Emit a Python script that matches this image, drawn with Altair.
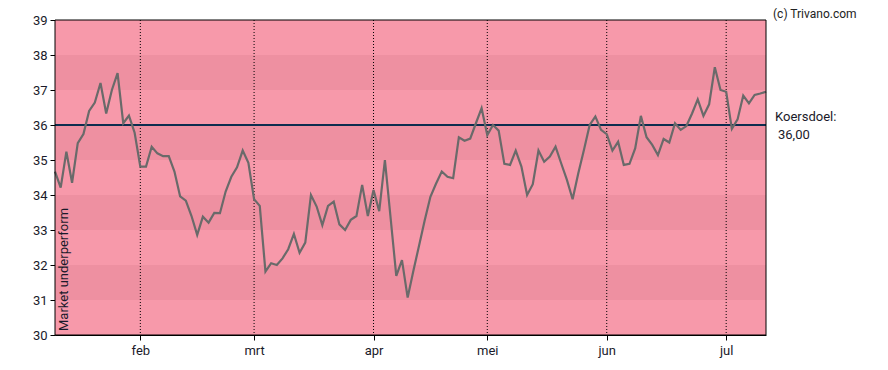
import altair as alt
import pandas as pd

# closing prices per trading day (13 Jan 2025 - 10 Jul 2025)
prices = [
    34.67, 34.21, 35.24, 34.35, 35.48, 35.74, 36.40, 36.64, 37.20, 36.33,
    37.00, 37.48, 36.05, 36.27, 35.78, 34.81, 34.81, 35.38, 35.19, 35.11,
    35.11, 34.67, 33.96, 33.84, 33.40, 32.86, 33.38, 33.21, 33.49, 33.48,
    34.10, 34.52, 34.79, 35.27, 34.92, 33.88, 33.69, 31.81, 32.05, 32.00,
    32.19, 32.45, 32.89, 32.35, 32.64, 34.00, 33.67, 33.14, 33.69, 33.81,
    33.16, 33.00, 33.29, 33.40, 34.29, 33.40, 34.14, 33.54, 35.00, 33.35,
    31.69, 32.14, 31.07, 31.83, 32.55, 33.28, 33.95, 34.33, 34.67, 34.52,
    34.48, 35.65, 35.55, 35.61, 36.05, 36.48, 35.71, 36.00, 35.84, 34.89,
    34.86, 35.27, 34.81, 34.00, 34.31, 35.27, 34.95, 35.10, 35.38, 34.90,
    34.43, 33.88, 34.62, 35.29, 36.00, 36.24, 35.86, 35.74, 35.27, 35.52,
    34.86, 34.89, 35.33, 36.26, 35.65, 35.43, 35.14, 35.60, 35.50, 36.05,
    35.86, 35.97, 36.33, 36.73, 36.26, 36.59, 37.65, 37.00, 36.95, 35.89,
    36.16, 36.84, 36.62, 36.86, 36.90, 36.95,
]

# first trading day of each month (index into prices)
month_idx = [15, 35, 56, 76, 97, 118]
month_labels = ["feb", "mrt", "apr", "mei", "jun", "jul"]

band_lo = [30, 31, 32, 33, 34, 35, 36, 37, 38]
band_kind = ["l", "d", "l", "d", "l", "d", "l", "d", "l"]

target = 36.0
target_label = "36,00"
y_ticks = list(range(30, 40))

W, H = 711, 315
FONT = "Roboto"

df = pd.DataFrame({"i": list(range(len(prices))), "p": prices})
bands = pd.DataFrame({"lo": band_lo, "hi": [b + 1 for b in band_lo], "k": band_kind})
months = pd.DataFrame({"i": month_idx, "m": month_labels})

label_map = "{" + ",".join(f"'{i}':'{m}'" for i, m in zip(month_idx, month_labels)) + "}"

xscale = alt.Scale(domain=[0, len(prices) - 1], nice=False, zero=False)
yscale = alt.Scale(domain=[30, 39], nice=False, zero=False)

xaxis = alt.Axis(
    values=month_idx, labelExpr=f"{label_map}[datum.value]", title=None,
    grid=False, tickColor="black", domainColor="black", tickSize=5,
    labelFont=FONT, labelFontSize=13, labelColor="#1a1a2a", labelPadding=4,
    labelOverlap=False,
)
yaxis = alt.Axis(
    values=y_ticks, title=None, grid=False, tickColor="black", domainColor="black",
    tickSize=5, labelFont=FONT, labelFontSize=13, labelColor="#1a1a2a", labelPadding=3,
    labelOverlap=False, tickCount=10,
)

band_layer = alt.Chart(bands).mark_rect().encode(
    x=alt.value(0), x2=alt.value(W),
    y=alt.Y("lo:Q", scale=yscale, axis=yaxis),
    y2="hi:Q",
    color=alt.Color("k:N", scale=alt.Scale(domain=["l", "d"], range=["#f799aa", "#ee90a1"]), legend=None),
)

grid_layer = alt.Chart(months).mark_rule(color="black", strokeDash=[1, 2], strokeWidth=1).encode(
    x=alt.X("i:Q", scale=xscale, axis=xaxis),
)

target_layer = alt.Chart(pd.DataFrame({"t": [target]})).mark_rule(color="#0d2d4f", strokeWidth=2).encode(
    y=alt.Y("t:Q", scale=yscale, axis=yaxis),
)

line_layer = alt.Chart(df).mark_line(color="#6a6a6a", strokeWidth=2.2).encode(
    x=alt.X("i:Q", scale=xscale, axis=xaxis),
    y=alt.Y("p:Q", scale=yscale, axis=yaxis),
)

frame = alt.Chart(pd.DataFrame({"a": [0]})).mark_rect(filled=False, stroke="black", strokeWidth=1).encode(
    x=alt.value(0), x2=alt.value(W), y=alt.value(0), y2=alt.value(H),
)

lbl1 = alt.Chart(pd.DataFrame({"t": [target]})).mark_text(
    text="Koersdoel:", align="left", baseline="bottom", font=FONT, fontSize=13, color="#1a1a2a", dy=-1,
).encode(x=alt.value(W + 9), y=alt.Y("t:Q", scale=yscale, axis=yaxis))

lbl2 = alt.Chart(pd.DataFrame({"t": [target]})).mark_text(
    text=target_label, align="left", baseline="top", font=FONT, fontSize=13, color="#1a1a2a", dy=4, dx=3,
).encode(x=alt.value(W + 9), y=alt.Y("t:Q", scale=yscale, axis=yaxis))

copy = alt.Chart(pd.DataFrame({"a": [0]})).mark_text(
    text="(c) Trivano.com", align="left", baseline="top", font=FONT, fontSize=12, color="#222222",
).encode(x=alt.value(W + 7), y=alt.value(-11))

rating = alt.Chart(pd.DataFrame({"a": [0]})).mark_text(
    text="Market underperform", align="left", baseline="middle", angle=270, font=FONT,
    fontSize=13, color="#1a1a2a",
).encode(x=alt.value(9), y=alt.value(H - 4))

chart = alt.layer(
    band_layer, grid_layer, target_layer, line_layer, frame, lbl1, lbl2, copy, rating,
).properties(
    width=W, height=H,
    autosize=alt.AutoSizeParams(type="none"),
    padding={"left": 47, "top": 12, "right": 114, "bottom": 27},
).configure_view(stroke=None)

chart.save("out.html", embed_options={"renderer": "svg", "actions": False})
